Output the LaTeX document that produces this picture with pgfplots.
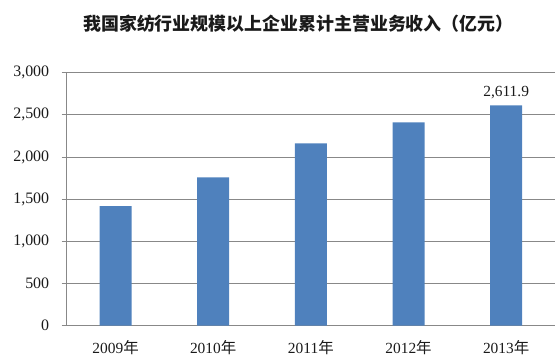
\documentclass[border=0pt]{standalone}
\usepackage{fontspec}
\setmainfont{Liberation Serif}
\newfontfamily\cjk{Noto Sans CJK SC}
\usepackage{pgfplots}
\pgfplotsset{compat=1.18}
\definecolor{barblue}{HTML}{4F81BD}
\definecolor{gridgray}{HTML}{888888}
\definecolor{txt}{HTML}{1A1A1A}
\begin{document}
\begin{tikzpicture}
\useasboundingbox (-66.7bp,-36.3bp) rectangle (493.3bp,325.7bp);
\begin{axis}[
  at={(0,0)}, anchor=south west,
  scale only axis,
  width=488.3bp, height=253bp,
  xmin=-0.5, xmax=4.5,
  ymin=0, ymax=3000,
  axis x line*=bottom, axis y line*=left,
  axis line style={gridgray, line width=0.8pt},
  xtick={0,1,2,3,4},
  xticklabels={2009{\cjk 年},2010{\cjk 年},2011{\cjk 年},2012{\cjk 年},2013{\cjk 年}},
  major x tick style={draw=none},
  extra x ticks={-0.5,0.5,1.5,2.5,3.5,4.5},
  extra x tick labels={},
  extra x tick style={tick style={draw=gridgray, line width=0.8pt}, major tick length=5bp, tick align=outside, grid=none},
  ytick={0,500,1000,1500,2000,2500,3000},
  ymajorgrids,
  grid style={gridgray, line width=0.8pt},
  y tick style={draw=gridgray, line width=0.8pt},
  major tick length=5bp,
  tick align=outside,
  /pgf/number format/assume math mode=true,
  /pgf/number format/1000 sep={,},
  yticklabel style={font=\fontsize{16}{17}\selectfont, text=txt, xshift=-9bp},
  xticklabel style={font=\fontsize{15.5}{16}\selectfont, text=txt, yshift=-6bp},
  title={\cjk\bfseries 我国家纺行业规模以上企业累计主营业务收入（亿元）},
  title style={at={(0.4745,1)}, anchor=center, yshift=42.7bp, font=\fontsize{18}{20}\selectfont, text=txt},
  clip=false,
]
\addplot[ybar, bar width=32bp, fill=barblue, draw=none,
  point meta=explicit symbolic,
  nodes near coords,
  nodes near coords style={font=\fontsize{15.5}{16}\selectfont, text=txt, yshift=3bp},
] coordinates {
  (0,1418) []
  (1,1760) []
  (2,2163) []
  (3,2410) []
  (4,2611.9) [2,611.9]
};
\end{axis}
\end{tikzpicture}
\end{document}
